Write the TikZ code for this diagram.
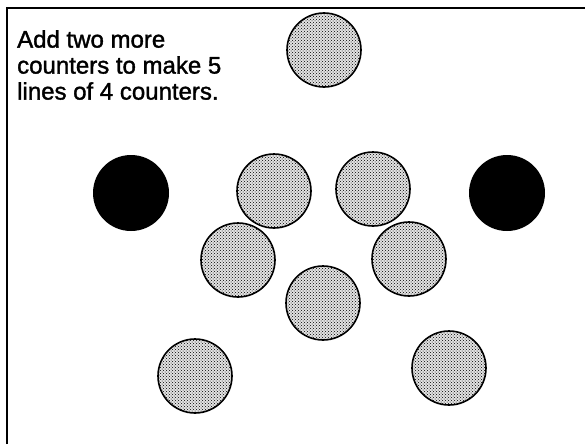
\documentclass[tikz,border=0pt]{standalone}
\usepackage{fontspec}
\setmainfont{Liberation Sans}[FakeBold=1.5]
\usetikzlibrary{patterns}
\tikzset{
  counter/.style={circle, draw, line width=1.6pt, minimum size=74pt, inner sep=0pt,
    preaction={fill=gray!22}, pattern=crosshatch dots, pattern color=black},
  added/.style={circle, fill=black, minimum size=76pt, inner sep=0pt}
}
\begin{document}
\begin{tikzpicture}[x=1pt, y=-1pt]
  \useasboundingbox (0,0) rectangle (585,444);
  \draw[line width=2pt] (7,444) -- (7,8) -- (585,8);
  \node[anchor=north west, align=left, inner sep=0pt, font=\fontsize{24}{26}\selectfont]
    (task) at (17,30) {Add two more\\counters to make 5\\lines of 4 counters.};
  % counters already placed
  \node[counter] (top) at (324,50) {};
  \node[counter] (ul) at (274,191) {};
  \node[counter] (ur) at (373,189) {};
  \node[counter] (ml) at (238,260) {};
  \node[counter] (mr) at (409,259) {};
  \node[counter] (mid) at (323,303) {};
  \node[counter] (bl) at (195,376) {};
  \node[counter] (br) at (449,368) {};
  % the two new ones
  \node[added] (newl) at (131,193) {};
  \node[added] (newr) at (507,193) {};
\end{tikzpicture}
\end{document}
